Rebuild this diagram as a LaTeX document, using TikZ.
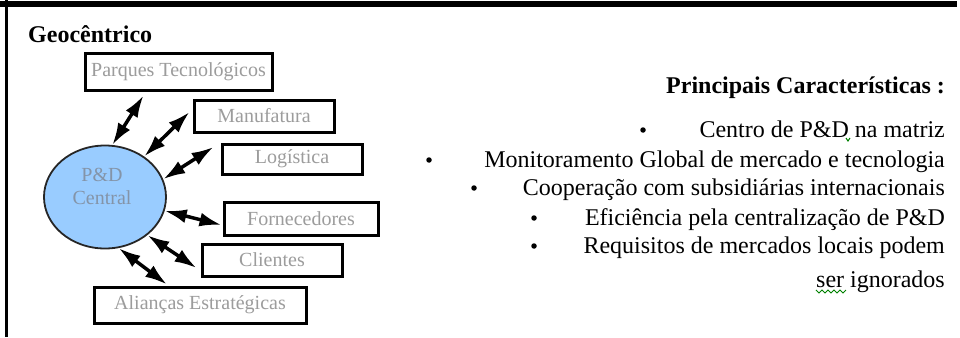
\documentclass[tikz,border=0pt]{standalone}
\usepackage{fontspec}
\setmainfont{Liberation Serif}
\usetikzlibrary{arrows.meta,calc,shapes.geometric}
\definecolor{lblgray}{HTML}{9C9C9C}
\definecolor{hubblue}{HTML}{99CCFF}
\definecolor{hubtext}{HTML}{8494A8}
\definecolor{spellgreen}{HTML}{008000}
\begin{document}
\begin{tikzpicture}[x=1pt,y=-1pt,
  partbox/.style={draw=black,line width=3pt,fill=white,inner sep=0pt,
    font=\fontsize{20}{22}\selectfont,text=lblgray},
  hub/.style={ellipse,draw=black!85,line width=1.8pt,fill=hubblue,inner sep=0pt},
  link/.style={line width=3.5pt,
    {Latex[length=22pt,width=14pt]}-{Latex[length=22pt,width=14pt]}},
  bigtext/.style={anchor=base east,inner sep=0pt,font=\fontsize{24}{28}\selectfont},
  dot/.style={circle,fill=black,inner sep=0pt,minimum size=5.5pt}]
  \useasboundingbox (0,0) rectangle (960,337);
  % frame: heavy rule on top, thin rule on the left
  \fill[black] (0,1.5) rectangle (957,7.5);
  \fill[black] (5,0) rectangle (8,337);

  % heading
  \node[anchor=base west,inner sep=0pt,font=\fontsize{24}{28}\selectfont\bfseries]
    (title) at (28,42) {Geocêntrico};

  % central R&D unit
  \node[hub,minimum width=122pt,minimum height=103pt] (cen) at (105,197) {};
  \node[align=center,inner sep=0pt,text=hubtext,
    font=\fontsize{20}{23}\selectfont] (cenlbl) at (102,186) {P\&D\\Central};

  % partner boxes
  \node[partbox,minimum width=187pt,minimum height=36pt] (pt) at (178.5,72) {Parques Tecnológicos};
  \node[partbox,minimum width=140pt,minimum height=32pt] (mf) at (264,116) {Manufatura};
  \node[partbox,minimum width=140pt,minimum height=30pt] (lg) at (292,159) {Logística};
  \node[partbox,minimum width=154pt,minimum height=33pt] (fn) at (301,218.5) {Fornecedores};
  \node[partbox,minimum width=140pt,minimum height=32pt] (cl) at (272,260) {Clientes};
  \node[partbox,minimum width=212pt,minimum height=36pt] (al) at (200,305) {Alianças Estratégicas};

  % two-way links between the hub and each partner
  \draw[link] (cen.82)  -- ($(pt.south)+(-35,4)$);
  \draw[link] (cen.46)  -- ($(mf.west)+(-3,-4)$);
  \draw[link] (cen.17)  -- ($(lg.west)+(-7,-12)$);
  \draw[link] (cen.-13) -- ($(fn.west)+(-1,6.5)$);
  \draw[link] (cen.-42) -- ($(cl.west)+(-4,8)$);
  \draw[link] (cen.-75) -- ($(al.north)+(-33,-1)$);

  % list of main characteristics
  \node[bigtext,font=\fontsize{24}{28}\selectfont\bfseries] (hd) at (945,93) {Principais Características :};
  \node[bigtext] (c1) at (945,137) {Centro de P\&D na matriz};
  \node[bigtext] (c2) at (945,167) {Monitoramento Global de mercado e tecnologia};
  \node[bigtext] (c3) at (945,195) {Cooperação com subsidiárias internacionais};
  \node[bigtext] (c4) at (945,225) {Eficiência pela centralização de P\&D};
  \node[bigtext] (c5) at (945,253) {Requisitos de mercados locais podem};
  \node[bigtext] (c6) at (945,287) {ser ignorados};

  \node[dot] (b1) at (643,130) {};
  \node[dot] (b2) at (429,160) {};
  \node[dot] (b3) at (474,188) {};
  \node[dot] (b4) at (534,218) {};
  \node[dot] (b5) at (534,246) {};

  % proofing marks under the text
  \draw[spellgreen,line width=1pt] ($(c1.base east)+(-99,1)$) -- ++(2,3) -- ++(2,-3);
  \draw[spellgreen,line width=1pt] ($(c6.base west)+(0,3)$)
    -- ++(3,3) -- ++(3,-3) -- ++(3,3) -- ++(3,-3) -- ++(3,3) -- ++(3,-3)
    -- ++(3,3) -- ++(3,-3) -- ++(3,3) -- ++(3,-3);
\end{tikzpicture}
\end{document}
